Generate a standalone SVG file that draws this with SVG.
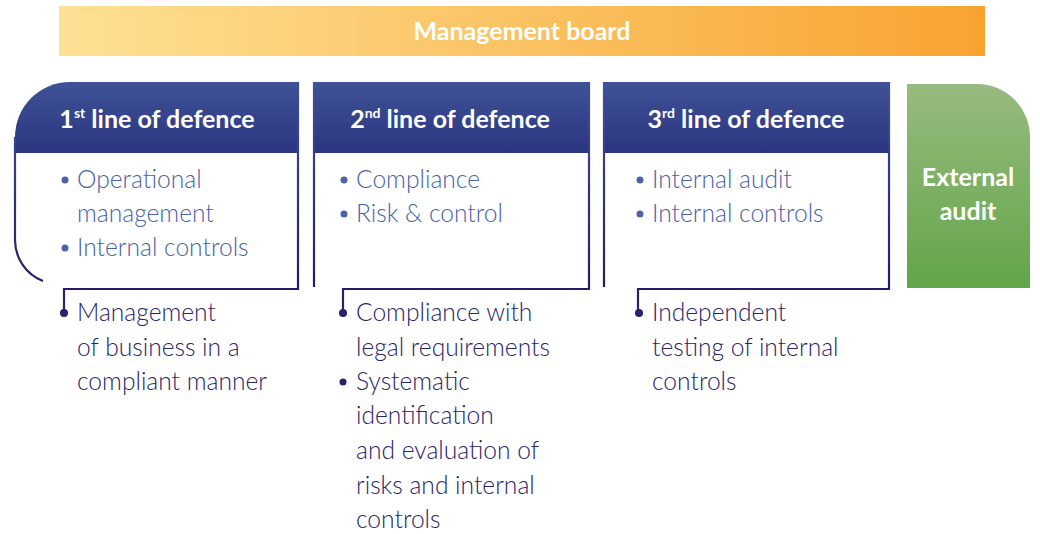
<svg xmlns="http://www.w3.org/2000/svg" width="1040" height="534" viewBox="0 0 1040 534">
<defs>
  <linearGradient id="gBoard" x1="0" y1="0" x2="1" y2="0">
    <stop offset="0" stop-color="#FDE194"/>
    <stop offset="1" stop-color="#F8A330"/>
  </linearGradient>
  <linearGradient id="gHead" x1="0" y1="0" x2="0" y2="1">
    <stop offset="0" stop-color="#3E5297"/>
    <stop offset="1" stop-color="#2C3580"/>
  </linearGradient>
  <linearGradient id="gGreen" x1="0" y1="0" x2="0" y2="1">
    <stop offset="0" stop-color="#98BB7F"/>
    <stop offset="1" stop-color="#62A54A"/>
  </linearGradient>
  <linearGradient id="gStroke" gradientUnits="userSpaceOnUse" x1="0" y1="82" x2="0" y2="290">
    <stop offset="0" stop-color="#3E5297"/>
    <stop offset="1" stop-color="#241B66"/>
  </linearGradient>
</defs>
<style>
  .outline{fill:none;stroke:url(#gStroke);stroke-width:2.2}
  .conn{fill:none;stroke:#2A2168;stroke-width:2.2}
  .dot{fill:#2A2168}
  .head{font-family:Lato,"Liberation Sans",sans-serif;font-weight:700;font-size:25px;fill:#FFFFFF;text-anchor:middle}
  .sup{font-size:14px}
  .light{font-family:Lato,"Liberation Sans",sans-serif;font-weight:300;font-size:24.6px;fill:#4B62A8}
  .bul{fill:#4B62A8}
  .dark{font-family:Lato,"Liberation Sans",sans-serif;font-weight:300;font-size:24.6px;fill:#2A2468}
  .board{font-family:Lato,"Liberation Sans",sans-serif;font-weight:700;font-size:25px;fill:#FFFFFF;text-anchor:middle}
</style>

<g id="management-board">
  <rect x="59" y="6" width="926" height="50" fill="url(#gBoard)"/>
  <text class="board" x="522" y="40">Management board</text>
</g>

<g id="line1">
  <path d="M70 82 H298 V153 H15 V137 A55 55 0 0 1 70 82 Z" fill="url(#gHead)"/>
  <path class="outline" d="M15 137 V240 A44 44 0 0 0 43 281"/>
  <path class="outline" d="M298 82 V289 H63"/>
  <text class="head" x="157" y="128">1<tspan class="sup" dy="-10">st</tspan><tspan dy="10"> line of defence</tspan></text>
  <circle class="bul" cx="65" cy="180" r="3.5"/>
  <text class="light" x="77" y="188">Operational</text>
  <text class="light" x="77" y="222">management</text>
  <circle class="bul" cx="65" cy="248" r="3.5"/>
  <text class="light" x="77" y="256">Internal controls</text>
  <text class="dark" x="77" y="321">Management</text>
  <text class="dark" x="77" y="356">of business in a</text>
  <text class="dark" x="77" y="390">compliant manner</text>
</g>

<g id="line2">
  <rect x="314" y="82" width="275" height="71" fill="url(#gHead)"/>
  <path class="outline" d="M314 82 V287"/>
  <path class="outline" d="M589 82 V289 H342"/>
  <text class="head" x="450" y="128">2<tspan class="sup" dy="-10">nd</tspan><tspan dy="10"> line of defence</tspan></text>
  <circle class="bul" cx="344" cy="180" r="3.5"/>
  <text class="light" x="356" y="188">Compliance</text>
  <circle class="bul" cx="344" cy="214" r="3.5"/>
  <text class="light" x="356" y="222">Risk &amp; control</text>
  <text class="dark" x="356" y="321">Compliance with</text>
  <text class="dark" x="356" y="356">legal requirements</text>
  <circle class="dot" cx="343" cy="382" r="3.5"/>
  <text class="dark" x="356" y="390">Systematic</text>
  <text class="dark" x="356" y="424">identification</text>
  <text class="dark" x="356" y="459">and evaluation of</text>
  <text class="dark" x="356" y="494">risks and internal</text>
  <text class="dark" x="356" y="528">controls</text>
</g>

<g id="line3">
  <rect x="604" y="82" width="285" height="71" fill="url(#gHead)"/>
  <path class="outline" d="M604 82 V287"/>
  <path class="outline" d="M889 82 V289 H637"/>
  <text class="head" x="746" y="128">3<tspan class="sup" dy="-10">rd</tspan><tspan dy="10"> line of defence</tspan></text>
  <circle class="bul" cx="640" cy="180" r="3.5"/>
  <text class="light" x="652" y="188">Internal audit</text>
  <circle class="bul" cx="640" cy="214" r="3.5"/>
  <text class="light" x="652" y="222">Internal controls</text>
  <text class="dark" x="652" y="321">Independent</text>
  <text class="dark" x="652" y="356">testing of internal</text>
  <text class="dark" x="652" y="390">controls</text>
</g>

<g id="external-audit">
  <path d="M907 84 H977 A53 53 0 0 1 1030 137 V288 H907 Z" fill="url(#gGreen)"/>
  <text class="head" x="968" y="186">External</text>
  <text class="head" x="968" y="220">audit</text>
</g>

<g id="connectors">
  <path class="conn" d="M64 289 V312"/>
  <circle class="dot" cx="64" cy="313" r="4"/>
  <path class="conn" d="M343 289 V312"/>
  <circle class="dot" cx="343" cy="313" r="4"/>
  <path class="conn" d="M638 289 V312"/>
  <circle class="dot" cx="639" cy="313" r="4"/>
</g>
</svg>
